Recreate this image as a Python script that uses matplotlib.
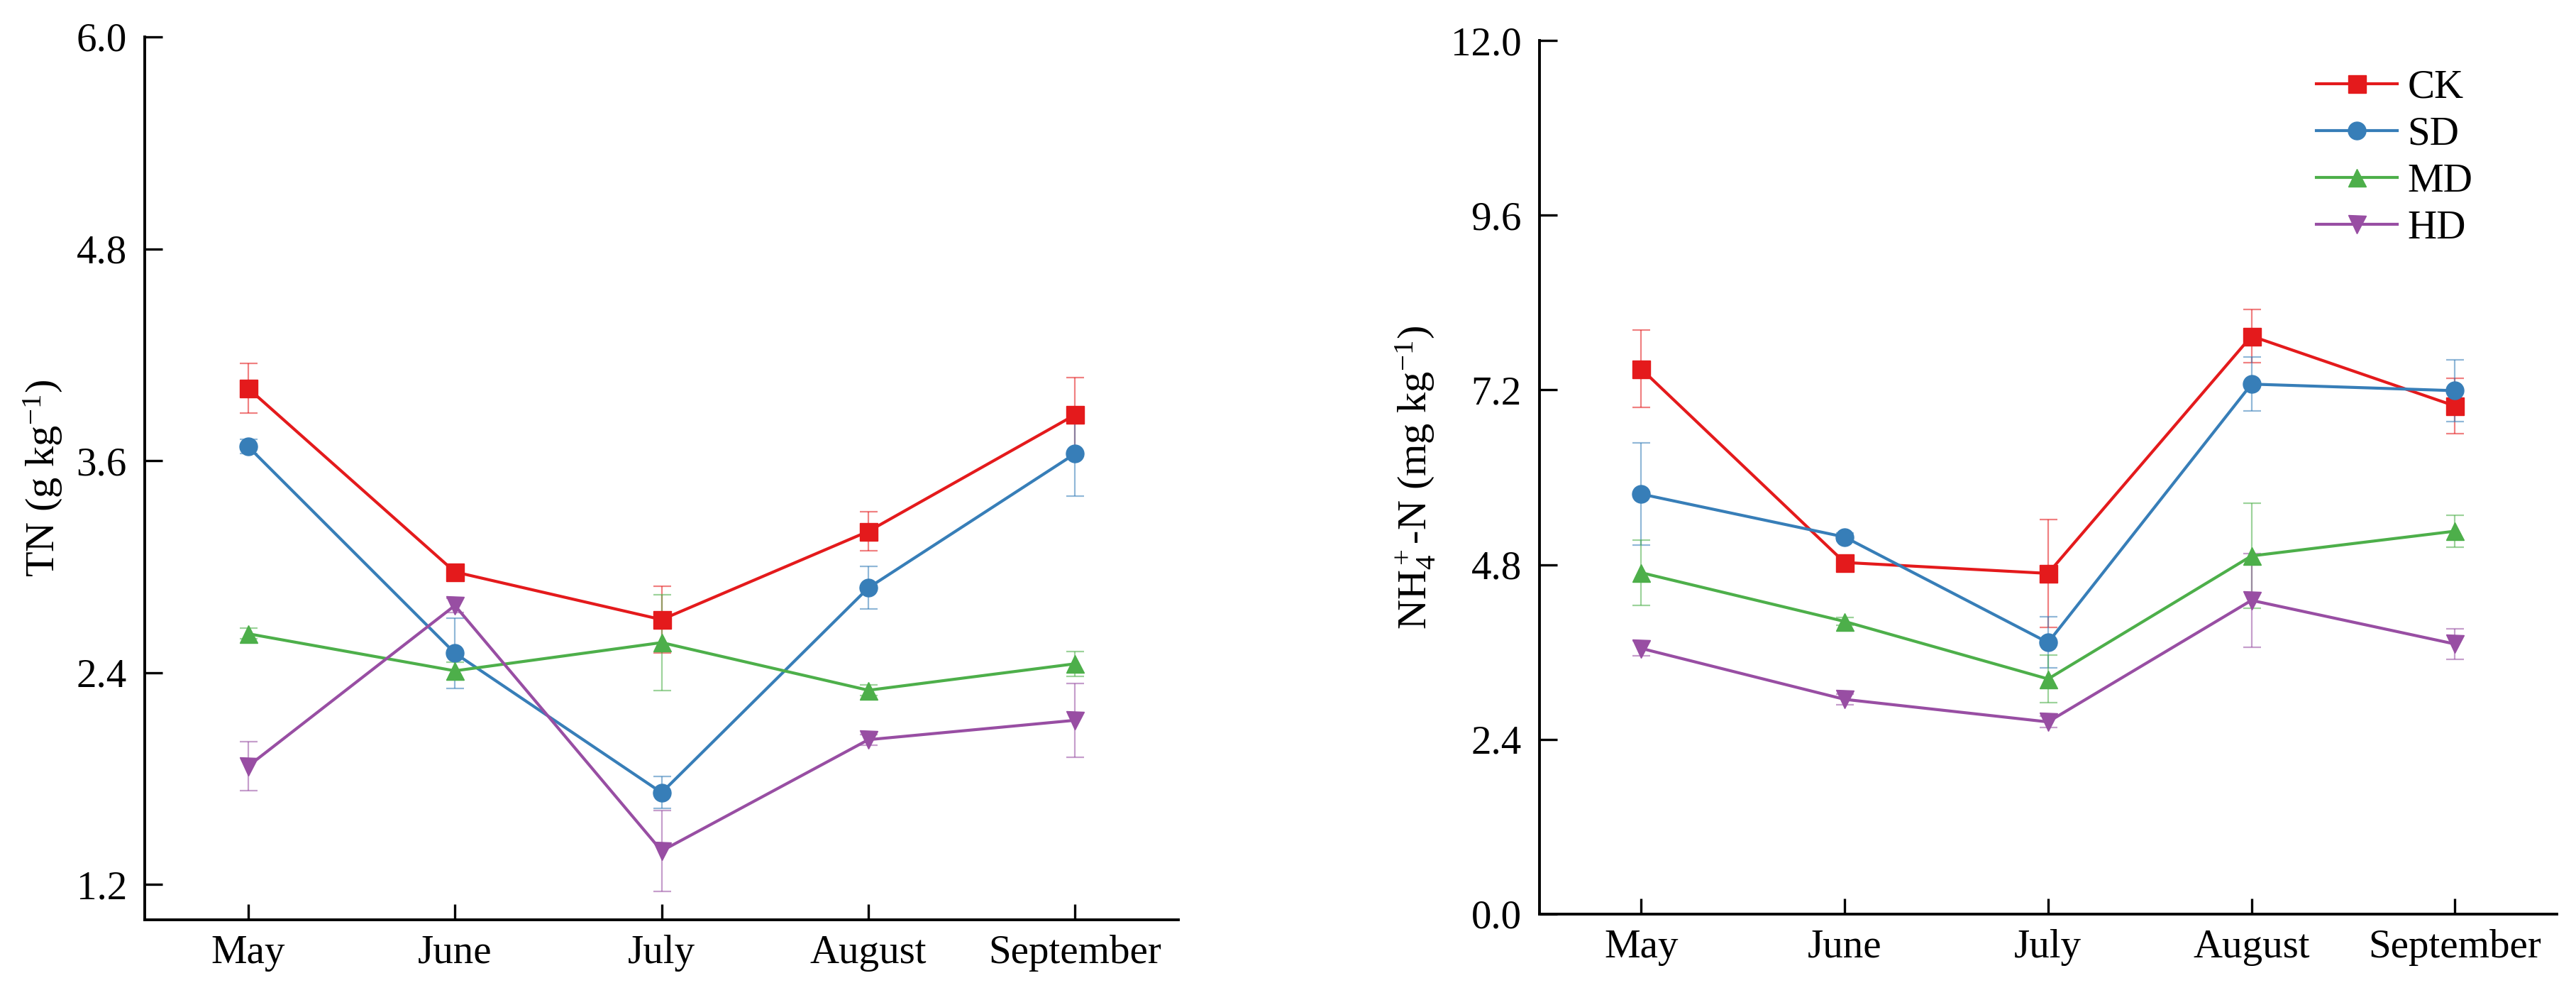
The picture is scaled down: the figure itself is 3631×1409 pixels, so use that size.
import matplotlib
matplotlib.use("Agg")
import matplotlib.pyplot as plt

plt.rcParams['font.family'] = ['Liberation Serif', 'DejaVu Serif']
plt.rcParams['mathtext.fontset'] = 'custom'
plt.rcParams['mathtext.rm'] = 'Liberation Serif'
plt.rcParams['mathtext.it'] = 'Liberation Serif:italic'

months = ['May', 'June', 'July', 'August', 'September']
groups = ['CK', 'SD', 'MD', 'HD']
colors = ['#E41A1C', '#377EB8', '#4DAF4A', '#984EA3']
markers = ['s', 'o', '^', 'v']

# total nitrogen, g kg-1
tn_ck = [4.01, 2.97, 2.70, 3.20, 3.86]
tn_sd = [3.68, 2.51, 1.72, 2.88, 3.64]
tn_md = [2.62, 2.41, 2.57, 2.30, 2.45]
tn_hd = [1.87, 2.78, 1.39, 2.02, 2.13]
tn_ck_err = [0.14, 0.04, 0.19, 0.11, 0.21]
tn_sd_err = [0.04, 0.20, 0.09, 0.12, 0.24]
tn_md_err = [0.03, 0.05, 0.27, 0.03, 0.07]
tn_hd_err = [0.14, 0.04, 0.23, 0.03, 0.21]

# ammonium nitrogen, mg kg-1
nh_ck = [7.49, 4.83, 4.68, 7.94, 6.98]
nh_sd = [5.77, 5.18, 3.73, 7.28, 7.19]
nh_md = [4.69, 4.02, 3.23, 4.92, 5.26]
nh_hd = [3.65, 2.95, 2.64, 4.31, 3.71]
nh_ck_err = [0.53, 0.05, 0.74, 0.37, 0.38]
nh_sd_err = [0.70, 0.05, 0.35, 0.37, 0.42]
nh_md_err = [0.45, 0.05, 0.33, 0.72, 0.22]
nh_hd_err = [0.10, 0.07, 0.08, 0.64, 0.21]

tn_vals = [tn_ck, tn_sd, tn_md, tn_hd]
tn_errs = [tn_ck_err, tn_sd_err, tn_md_err, tn_hd_err]
nh_vals = [nh_ck, nh_sd, nh_md, nh_hd]
nh_errs = [nh_ck_err, nh_sd_err, nh_md_err, nh_hd_err]

fig = plt.figure(figsize=(36.31, 14.09), dpi=100)
ax1 = fig.add_axes([0.0562, 0.0802, 0.4013, 0.8829])
ax2 = fig.add_axes([0.5976, 0.0859, 0.3949, 0.8736])

x = list(range(len(months)))


def draw(ax, vals, errs):
    for v, e, c, m, g in zip(vals, errs, colors, markers, groups):
        ax.errorbar(x, v, yerr=e, fmt='none', ecolor=c, alpha=0.55,
                    elinewidth=1.6, capsize=9, capthick=1.6, zorder=2)
        ax.plot(x, v, color=c, marker=m, markersize=18, linewidth=3,
                label=g, zorder=3)


draw(ax1, tn_vals, tn_errs)
draw(ax2, nh_vals, nh_errs)

ax1.set_ylim(1.0, 6.0)
ax1.set_yticks([1.2, 2.4, 3.6, 4.8, 6.0])
ax1.set_ylabel('TN (g kg$^{-1}$)', fontsize=42, labelpad=12)

ax2.set_ylim(0.0, 12.0)
ax2.set_yticks([0.0, 2.4, 4.8, 7.2, 9.6, 12.0])
ax2.set_ylabel('NH$_4^+$-N (mg kg$^{-1}$)', fontsize=42, labelpad=14)

for ax in (ax1, ax2):
    ax.set_xlim(-0.5, 4.5)
    ax.set_xticks(x)
    ax.set_xticklabels(months)
    ax.yaxis.set_major_formatter(matplotlib.ticker.FormatStrFormatter('%.1f'))
    ax.spines['top'].set_visible(False)
    ax.spines['right'].set_visible(False)
    ax.spines['left'].set_linewidth(2.8)
    ax.spines['bottom'].set_linewidth(2.8)
    ax.tick_params(axis='y', direction='in', length=18, width=2.4,
                   labelsize=41, pad=18)
    ax.tick_params(axis='x', direction='in', length=16, width=2.4,
                   labelsize=41, pad=15)

ax2.legend(loc='upper left', bbox_to_anchor=(0.764, 0.967), frameon=False,
           fontsize=41, handlelength=2.0, handletextpad=0.25,
           labelspacing=0.25, borderpad=0, borderaxespad=0, numpoints=1)

fig.savefig('out.png', dpi=100)
